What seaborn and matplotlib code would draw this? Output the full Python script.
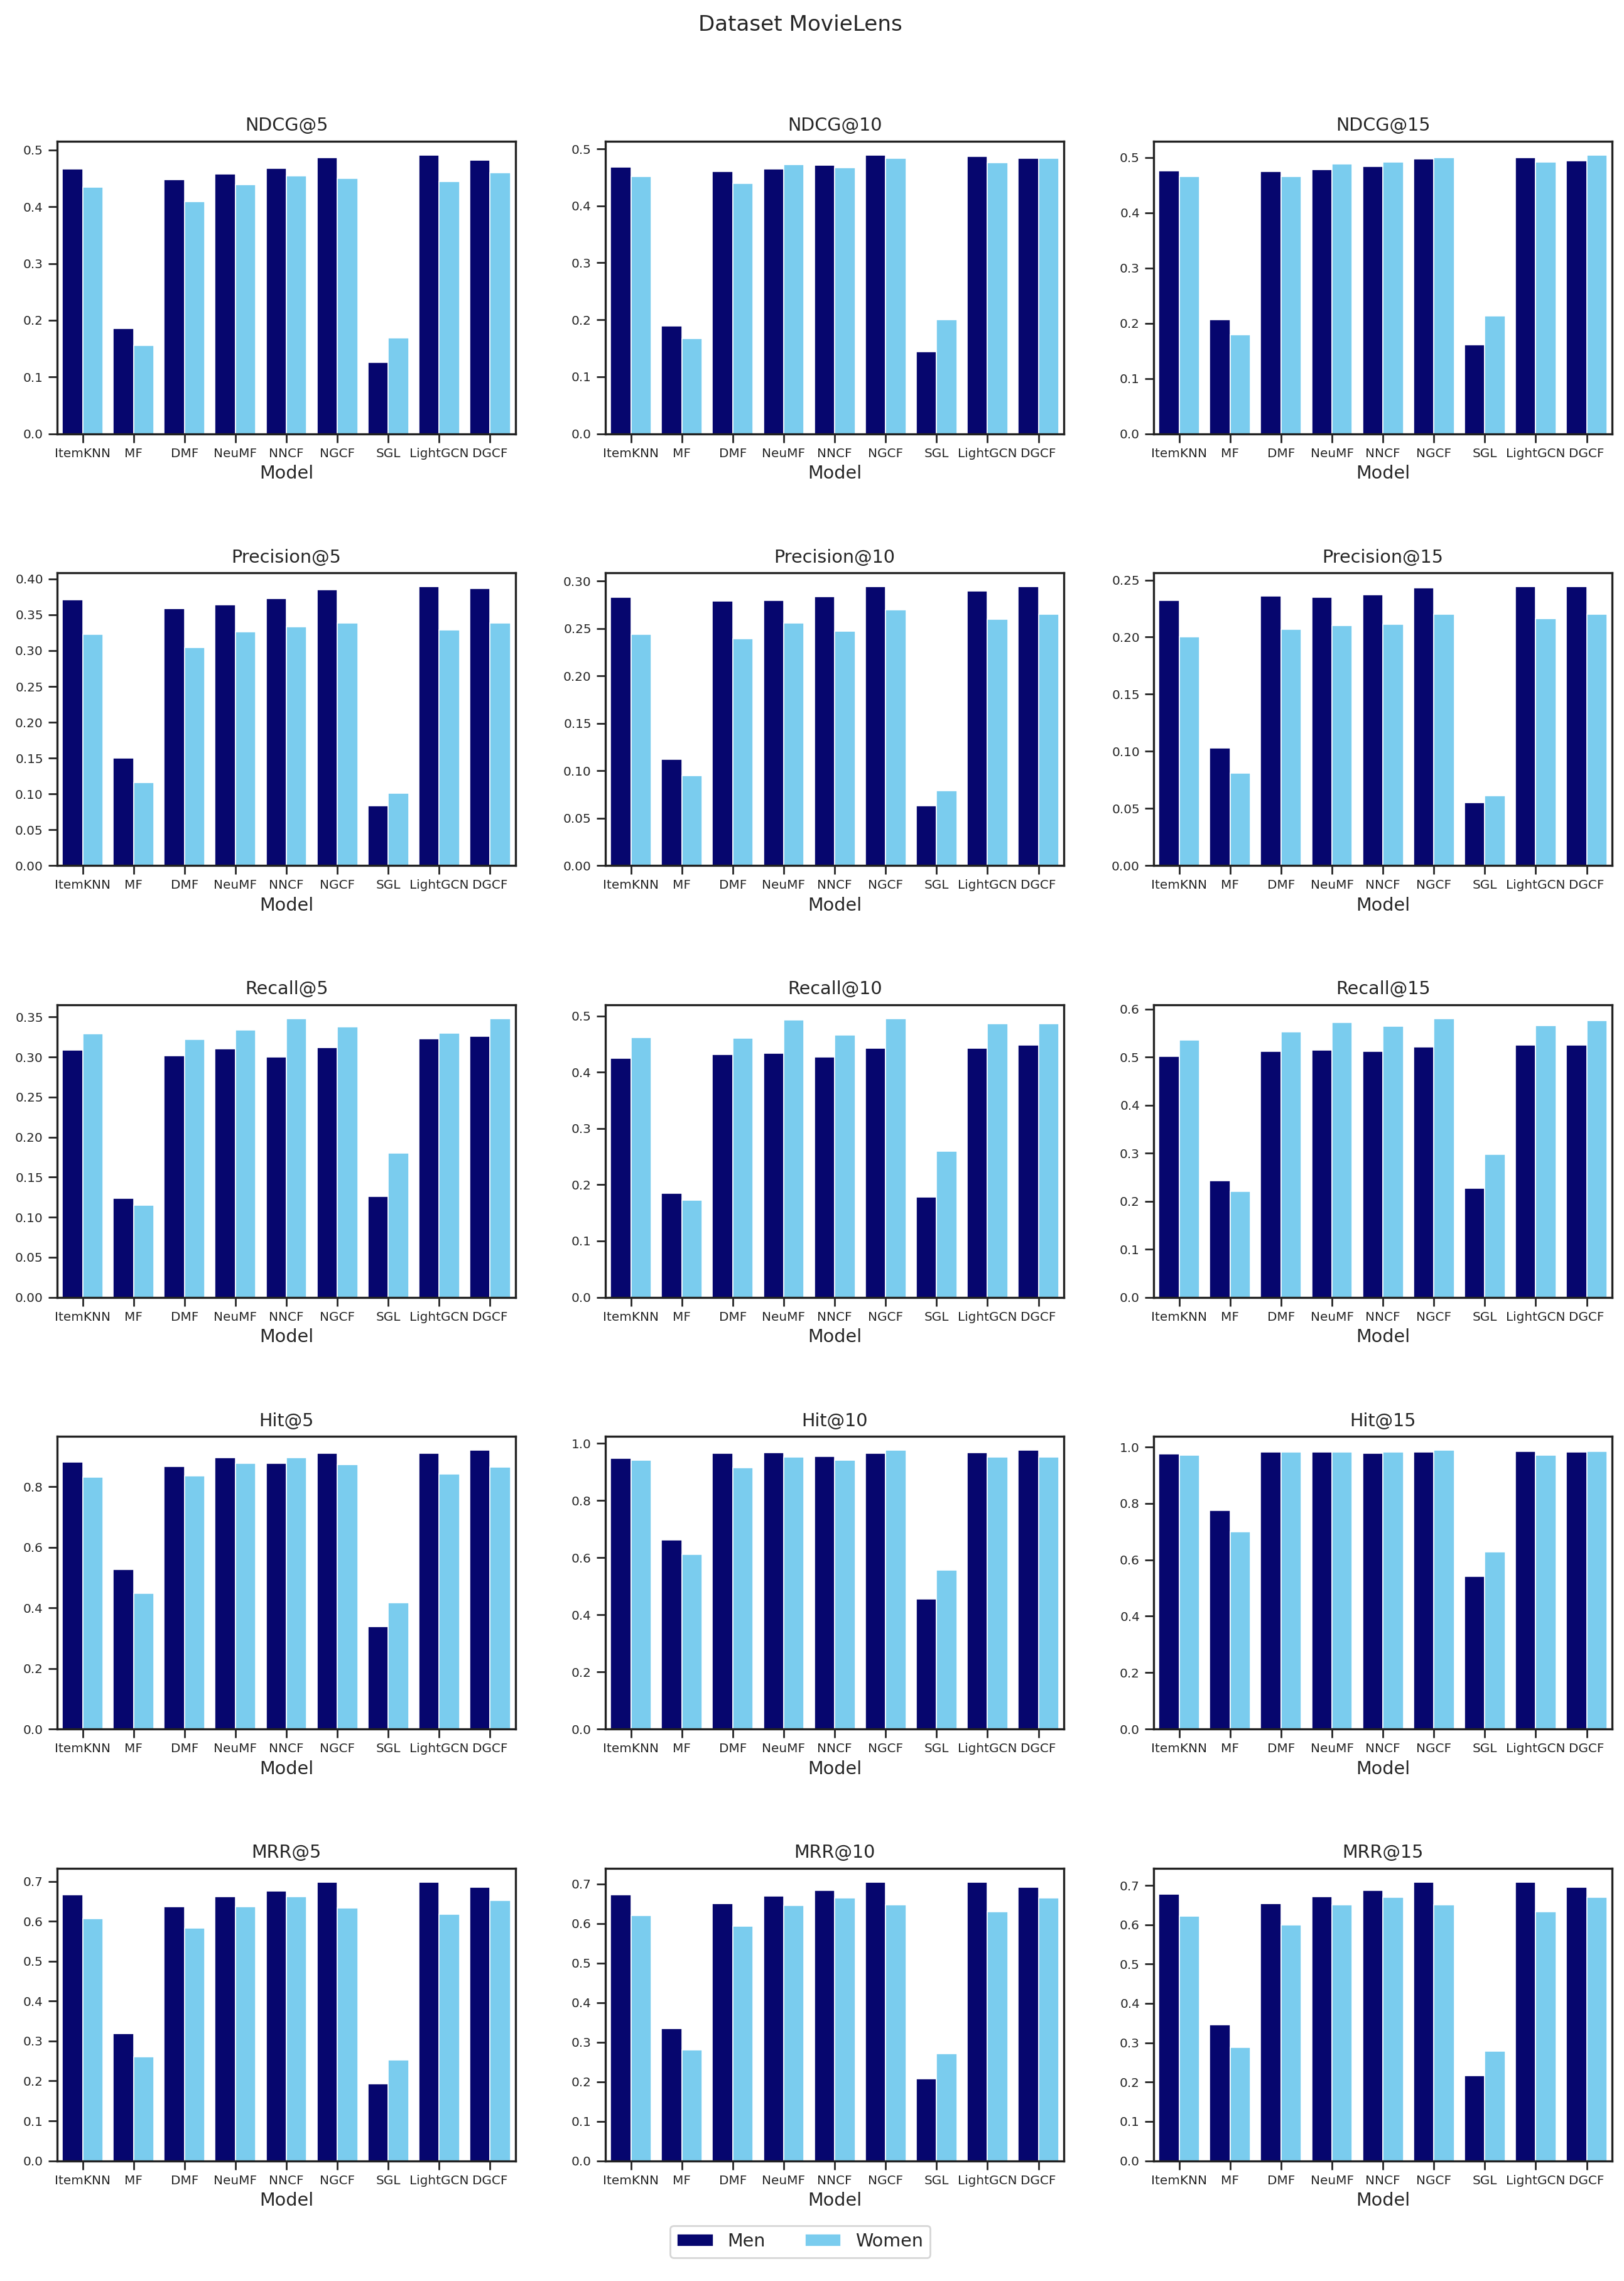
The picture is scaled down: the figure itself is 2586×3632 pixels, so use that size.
import numpy as np
import pandas as pd
import matplotlib
matplotlib.use("Agg")
import matplotlib.pyplot as plt
import seaborn as sns

models = ["ItemKNN", "MF", "DMF", "NeuMF", "NNCF", "NGCF", "SGL", "LightGCN", "DGCF"]
groups = ["Men", "Women"]
metrics = ["NDCG@5", "NDCG@10", "NDCG@15",
           "Precision@5", "Precision@10", "Precision@15",
           "Recall@5", "Recall@10", "Recall@15",
           "Hit@5", "Hit@10", "Hit@15",
           "MRR@5", "MRR@10", "MRR@15"]

ndcg5_men = [0.467, 0.185, 0.448, 0.458, 0.468, 0.487, 0.126, 0.491, 0.482]
ndcg5_women = [0.434, 0.156, 0.409, 0.439, 0.455, 0.450, 0.169, 0.444, 0.460]
ndcg10_men = [0.468, 0.189, 0.460, 0.465, 0.471, 0.489, 0.144, 0.487, 0.484]
ndcg10_women = [0.451, 0.167, 0.439, 0.472, 0.467, 0.483, 0.200, 0.476, 0.484]
ndcg15_men = [0.476, 0.206, 0.474, 0.478, 0.483, 0.497, 0.161, 0.499, 0.494]
ndcg15_women = [0.465, 0.179, 0.465, 0.488, 0.492, 0.499, 0.213, 0.492, 0.504]

prec5_men = [0.371, 0.150, 0.359, 0.364, 0.373, 0.385, 0.083, 0.389, 0.387]
prec5_women = [0.323, 0.116, 0.304, 0.326, 0.333, 0.339, 0.101, 0.329, 0.339]
prec10_men = [0.283, 0.112, 0.279, 0.280, 0.284, 0.294, 0.063, 0.290, 0.294]
prec10_women = [0.244, 0.095, 0.239, 0.256, 0.247, 0.270, 0.079, 0.260, 0.265]
prec15_men = [0.232, 0.103, 0.236, 0.235, 0.237, 0.243, 0.055, 0.244, 0.244]
prec15_women = [0.200, 0.081, 0.207, 0.210, 0.211, 0.220, 0.061, 0.216, 0.220]

rec5_men = [0.309, 0.124, 0.302, 0.310, 0.300, 0.312, 0.126, 0.323, 0.326]
rec5_women = [0.329, 0.115, 0.322, 0.334, 0.348, 0.338, 0.180, 0.330, 0.348]
rec10_men = [0.425, 0.185, 0.431, 0.434, 0.427, 0.443, 0.178, 0.443, 0.448]
rec10_women = [0.462, 0.172, 0.460, 0.493, 0.466, 0.495, 0.260, 0.486, 0.486]
rec15_men = [0.501, 0.243, 0.512, 0.515, 0.512, 0.521, 0.227, 0.525, 0.525]
rec15_women = [0.535, 0.220, 0.553, 0.572, 0.564, 0.580, 0.297, 0.566, 0.576]

hit5_men = [0.881, 0.528, 0.868, 0.897, 0.878, 0.911, 0.339, 0.911, 0.920]
hit5_women = [0.832, 0.449, 0.836, 0.878, 0.897, 0.874, 0.417, 0.842, 0.865]
hit10_men = [0.948, 0.662, 0.965, 0.968, 0.955, 0.965, 0.456, 0.968, 0.975]
hit10_women = [0.941, 0.611, 0.914, 0.951, 0.941, 0.975, 0.556, 0.951, 0.951]
hit15_men = [0.975, 0.775, 0.982, 0.982, 0.978, 0.982, 0.542, 0.985, 0.982]
hit15_women = [0.971, 0.699, 0.982, 0.982, 0.982, 0.988, 0.629, 0.971, 0.985]

mrr5_men = [0.666, 0.319, 0.637, 0.662, 0.676, 0.698, 0.193, 0.698, 0.686]
mrr5_women = [0.607, 0.260, 0.583, 0.637, 0.662, 0.634, 0.253, 0.617, 0.653]
mrr10_men = [0.672, 0.334, 0.650, 0.669, 0.684, 0.704, 0.207, 0.704, 0.692]
mrr10_women = [0.620, 0.280, 0.593, 0.645, 0.664, 0.647, 0.270, 0.630, 0.664]
mrr15_men = [0.677, 0.346, 0.653, 0.672, 0.687, 0.708, 0.216, 0.708, 0.695]
mrr15_women = [0.622, 0.288, 0.600, 0.650, 0.670, 0.650, 0.278, 0.633, 0.670]

series = {
    "NDCG@5": (ndcg5_men, ndcg5_women), "NDCG@10": (ndcg10_men, ndcg10_women),
    "NDCG@15": (ndcg15_men, ndcg15_women),
    "Precision@5": (prec5_men, prec5_women), "Precision@10": (prec10_men, prec10_women),
    "Precision@15": (prec15_men, prec15_women),
    "Recall@5": (rec5_men, rec5_women), "Recall@10": (rec10_men, rec10_women),
    "Recall@15": (rec15_men, rec15_women),
    "Hit@5": (hit5_men, hit5_women), "Hit@10": (hit10_men, hit10_women),
    "Hit@15": (hit15_men, hit15_women),
    "MRR@5": (mrr5_men, mrr5_women), "MRR@10": (mrr10_men, mrr10_women),
    "MRR@15": (mrr15_men, mrr15_women),
}

rows = []
for m in metrics:
    men, women = series[m]
    for i, mod in enumerate(models):
        rows.append({"Metric": m, "Model": mod, "Gender": "Men", "Value": men[i]})
        rows.append({"Metric": m, "Model": mod, "Gender": "Women", "Value": women[i]})
df = pd.DataFrame(rows)

sns.set_theme(style="ticks")
plt.rcParams["font.family"] = ["DejaVu Sans"]

palette = {"Men": "#06066E", "Women": "#7ACCEE"}

fig, axes = plt.subplots(5, 3, figsize=(12.93, 18.16), dpi=200)
fig.subplots_adjust(left=0.0352, right=0.9927, top=0.9381, bottom=0.0527,
                    hspace=0.476, wspace=0.196)

for ax, m in zip(axes.flat, metrics):
    sub = df[df["Metric"] == m]
    sns.barplot(data=sub, x="Model", y="Value", hue="Gender", order=models,
                hue_order=groups, palette=palette, saturation=1, ax=ax,
                errorbar=None, linewidth=0.6, edgecolor="white")
    ax.set_title(m, fontsize=10.3)
    ax.set_xlabel("Model", fontsize=10.3, labelpad=3)
    ax.set_ylabel("")
    ax.tick_params(axis="both", labelsize=7.2, length=5, width=1.0, pad=3)
    for s in ax.spines.values():
        s.set_linewidth(1.2)
        s.set_color("#222222")
    leg = ax.get_legend()
    if leg is not None:
        leg.remove()

handles, labels = axes.flat[0].get_legend_handles_labels()
fig.legend(handles[:2], labels[:2], loc="center", bbox_to_anchor=(0.4927, 0.0173),
           ncol=2, fontsize=10.3, frameon=True, columnspacing=2.2)

fig.suptitle("Dataset MovieLens", x=0.4927, y=0.9936, fontsize=12.3)

fig.savefig("out.png", dpi=200)
